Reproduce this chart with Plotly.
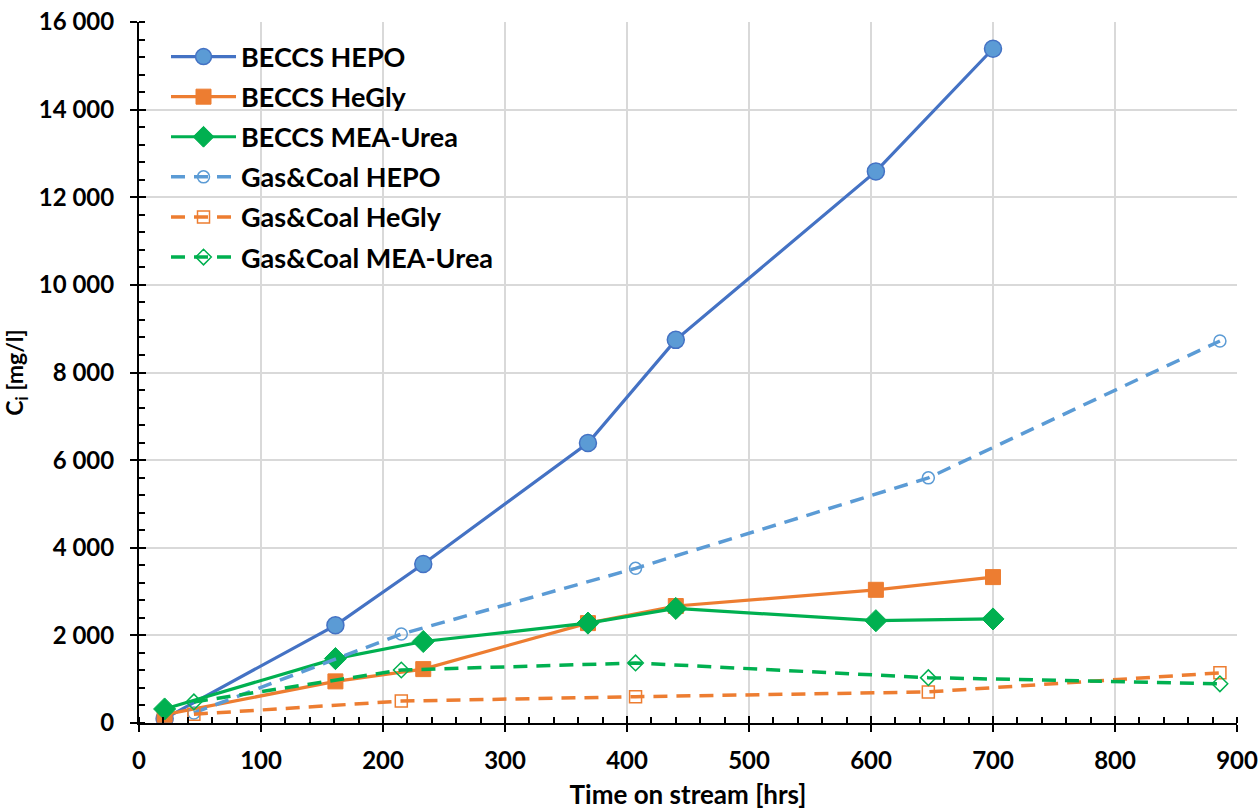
import plotly.graph_objects as go

# BECCS series
beccs_t = [21, 161, 233, 368, 440, 604, 700]
beccs_hepo = [100, 2230, 3630, 6390, 8745, 12590, 15390]
beccs_hegly = [190, 950, 1230, 2280, 2670, 3040, 3330]
beccs_mea = [320, 1470, 1860, 2280, 2615, 2335, 2375]

# Gas&Coal series
gc_t = [45, 215, 407, 647, 886]
gc_hepo = [230, 2030, 3530, 5595, 8720]
gc_hegly = [200, 500, 600, 710, 1145]
gc_mea = [480, 1210, 1370, 1035, 895]

x_ticks = list(range(0, 901, 100))
y_ticks = list(range(0, 16001, 2000))

BLUE_D = "#4472C4"
BLUE_L = "#5B9BD5"
ORANGE = "#ED7D31"
GREEN = "#00B050"
DASH = "14px,9px"

fig = go.Figure()

fig.add_trace(go.Scatter(x=beccs_t, y=beccs_hepo, name="BECCS HEPO", mode="lines+markers",
                         legendgroup="a",
                         line=dict(color=BLUE_D, width=3.2),
                         marker=dict(symbol="circle", size=17, color=BLUE_L,
                                     line=dict(color=BLUE_D, width=1.5))))
fig.add_trace(go.Scatter(x=beccs_t, y=beccs_hegly, name="BECCS HeGly", mode="lines+markers",
                         legendgroup="b",
                         line=dict(color=ORANGE, width=3.2),
                         marker=dict(symbol="square", size=15, color=ORANGE,
                                     line=dict(color=ORANGE, width=1))))
fig.add_trace(go.Scatter(x=beccs_t, y=beccs_mea, name="BECCS MEA-Urea", mode="lines+markers",
                         legendgroup="c",
                         line=dict(color=GREEN, width=3.2),
                         marker=dict(symbol="diamond", size=17, color=GREEN,
                                     line=dict(color=GREEN, width=1))))
fig.add_trace(go.Scatter(x=gc_t, y=gc_hepo, name="Gas&Coal HEPO", mode="lines+markers",
                         legendgroup="d",
                         line=dict(color=BLUE_L, width=3.5, dash=DASH),
                         marker=dict(symbol="circle-open", size=12,
                                     line=dict(color=BLUE_L, width=1.5), color=BLUE_L)))
fig.add_trace(go.Scatter(x=gc_t, y=gc_hegly, name="Gas&Coal HeGly", mode="lines+markers",
                         legendgroup="e",
                         line=dict(color=ORANGE, width=3.5, dash=DASH),
                         marker=dict(symbol="square-open", size=12,
                                     line=dict(color=ORANGE, width=1.5), color=ORANGE)))
fig.add_trace(go.Scatter(x=gc_t, y=gc_mea, name="Gas&Coal MEA-Urea", mode="lines+markers",
                         legendgroup="f",
                         line=dict(color=GREEN, width=3.5, dash=DASH),
                         marker=dict(symbol="diamond-open", size=12,
                                     line=dict(color=GREEN, width=1.5), color=GREEN)))

# invisible helper trace on overlay axes (for inward half of the crossing major ticks)
fig.add_trace(go.Scatter(x=[None], y=[None], xaxis="x2", yaxis="y2",
                         showlegend=False, hoverinfo="skip", mode="lines"))

FONT = "Lato, 'Open Sans', Arial, sans-serif"

fig.update_layout(
    width=1259, height=810,
    margin=dict(l=139, r=22, t=22, b=87),
    paper_bgcolor="white", plot_bgcolor="white",
    separators=". ",
    font=dict(family=FONT, size=22, color="black"),
    showlegend=True,
    legend=dict(x=0.0246, y=0.985, xanchor="left", yanchor="top",
                bgcolor="rgba(255,255,255,0)",
                font=dict(family=FONT, size=27, color="black", weight="bold"),
                tracegroupgap=2, itemwidth=65),
    xaxis2=dict(overlaying="x", range=[0, 900], tickvals=x_ticks, showticklabels=False,
                ticks="inside", ticklen=7, tickwidth=2, tickcolor="black", automargin=False,
                showgrid=False, showline=False, zeroline=False, side="bottom"),
    yaxis2=dict(overlaying="y", range=[0, 16000], tickvals=y_ticks, showticklabels=False,
                ticks="inside", ticklen=7, tickwidth=2, tickcolor="black", automargin=False,
                showgrid=False, showline=False, zeroline=False, side="left"),
)

fig.layout.xaxis.update(
    range=[0, 900], tickvals=x_ticks, ticktext=[str(v) for v in x_ticks],
    automargin=False,
    showgrid=True, gridcolor="#D9D9D9", gridwidth=2,
    showline=True, linecolor="black", linewidth=2,
    ticks="outside", ticklen=7, tickwidth=2, tickcolor="black",
    ticklabelstandoff=8,
    minor=dict(dtick=20, ticks="inside", ticklen=6, tickwidth=1.5, tickcolor="black", showgrid=False),
    tickfont=dict(family=FONT, size=24, color="black", weight="bold"),
    title=dict(text="Time on stream [hrs]", standoff=15,
               font=dict(family=FONT, size=26, color="black", weight="bold")),
    zeroline=False,
)
fig.layout.yaxis.update(
    range=[0, 16000], tickvals=y_ticks, tickformat=",d",
    automargin=False,
    showgrid=True, gridcolor="#D9D9D9", gridwidth=2,
    showline=True, linecolor="black", linewidth=2,
    ticks="outside", ticklen=7, tickwidth=2, tickcolor="black",
    ticklabelstandoff=11,
    minor=dict(dtick=400, ticks="inside", ticklen=6, tickwidth=1.5, tickcolor="black", showgrid=False),
    tickfont=dict(family=FONT, size=24, color="black", weight="bold"),
    title=dict(text="C<sub>i</sub> [mg/l]", standoff=12,
               font=dict(family=FONT, size=23, color="black", weight="bold")),
    zeroline=False,
)

fig.write_html("out.html")
